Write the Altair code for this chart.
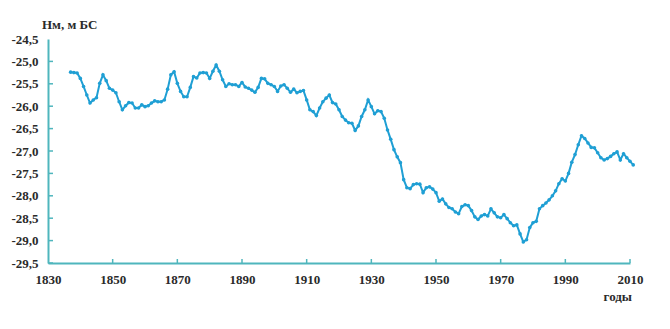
import altair as alt
import pandas as pd

years = list(range(1837, 2012))
levels = [
    -25.24, -25.25, -25.26, -25.38, -25.56, -25.75, -25.93, -25.86, -25.81, -25.49,  # 1837-1846
    -25.30, -25.43, -25.60, -25.64, -25.70, -25.90, -26.08, -25.99, -25.92, -25.93,  # 1847-1856
    -26.04, -26.04, -25.97, -26.01, -25.99, -25.93, -25.88, -25.90, -25.90, -25.86,  # 1857-1866
    -25.62, -25.30, -25.23, -25.49, -25.67, -25.79, -25.79, -25.58, -25.34, -25.37,  # 1867-1876
    -25.26, -25.25, -25.26, -25.38, -25.22, -25.08, -25.22, -25.41, -25.56, -25.50,  # 1877-1886
    -25.52, -25.52, -25.56, -25.47, -25.57, -25.60, -25.64, -25.69, -25.58, -25.38,  # 1887-1896
    -25.39, -25.49, -25.52, -25.56, -25.67, -25.55, -25.52, -25.60, -25.69, -25.62,  # 1897-1906
    -25.70, -25.67, -25.65, -25.86, -26.08, -26.12, -26.21, -26.04, -25.90, -25.82,  # 1907-1916
    -25.75, -25.92, -25.95, -26.08, -26.23, -26.31, -26.37, -26.38, -26.54, -26.44,  # 1917-1926
    -26.23, -26.08, -25.86, -26.01, -26.17, -26.10, -26.12, -26.27, -26.53, -26.74,  # 1927-1936
    -26.97, -27.13, -27.26, -27.64, -27.82, -27.84, -27.75, -27.73, -27.74, -27.93,  # 1937-1946
    -27.82, -27.80, -27.85, -27.93, -28.12, -28.07, -28.18, -28.26, -28.29, -28.36,  # 1947-1956
    -28.40, -28.24, -28.20, -28.22, -28.33, -28.47, -28.53, -28.45, -28.42, -28.45,  # 1957-1966
    -28.29, -28.38, -28.47, -28.49, -28.42, -28.51, -28.60, -28.67, -28.65, -28.85,  # 1967-1976
    -29.03, -28.98, -28.71, -28.60, -28.57, -28.29, -28.22, -28.16, -28.09, -28.00,  # 1977-1986
    -27.89, -27.73, -27.62, -27.67, -27.50, -27.25, -27.08, -26.86, -26.66, -26.72,  # 1987-1996
    -26.82, -26.92, -26.93, -27.04, -27.15, -27.20, -27.17, -27.12, -27.06, -27.02,  # 1997-2006
    -27.20, -27.06, -27.15, -27.23, -27.31,                                          # 2007-2011
]
x_ticks = [1830, 1850, 1870, 1890, 1910, 1930, 1950, 1970, 1990, 2010]
y_ticks = [-29.5, -29.0, -28.5, -28.0, -27.5, -27.0, -26.5, -26.0, -25.5, -25.0, -24.5]
y_title = "Нм, м БС"
x_title = "годы"

W, H = 582, 224
LINE = "#1f9fd4"
AXIS = "#4fb6bd"
TEXT = "#2a2a2a"
FONT = "Liberation Serif"

df = pd.DataFrame({"year": years, "level": levels})

xscale = alt.Scale(domain=[1830, 2010], nice=False, zero=False)
yscale = alt.Scale(domain=[-29.5, -24.5], nice=False, zero=False)

xaxis = alt.Axis(values=x_ticks, ticks=False, grid=False, domainColor=AXIS, domainWidth=2,
                 labelFont=FONT, labelFontSize=13, labelFontWeight="bold", labelColor=TEXT,
                 labelPadding=10, labelOverlap=False, labelFlush=False,
                 labelExpr="format(datum.value, 'd')", title=None)
yaxis = alt.Axis(values=y_ticks, ticks=False, grid=False, domainColor=AXIS, domainWidth=2,
                 labelFont=FONT, labelFontSize=13, labelFontWeight="bold", labelColor=TEXT,
                 labelPadding=10, labelOverlap=False, labelFlush=False, labelBound=False,
                 labelExpr="(datum.value < 0 ? '-' : '') + replace(format(abs(datum.value), '.1f'), '.', ',')",
                 title=None)

line = alt.Chart(df).mark_line(
    color=LINE, strokeWidth=2,
    point=alt.OverlayMarkDef(filled=True, size=13, color=LINE),
).encode(
    x=alt.X("year:Q", scale=xscale, axis=xaxis),
    y=alt.Y("level:Q", scale=yscale, axis=yaxis),
)

yt = alt.Chart(pd.DataFrame({"v": y_ticks[:-1]})).mark_rule(color=AXIS, strokeWidth=1.5).encode(
    y=alt.Y("v:Q", scale=yscale, axis=yaxis), x=alt.value(0), x2=alt.value(5)
)
xt = alt.Chart(pd.DataFrame({"v": x_ticks[1:]})).mark_rule(color=AXIS, strokeWidth=1.5).encode(
    x=alt.X("v:Q", scale=xscale, axis=xaxis), y=alt.value(H), y2=alt.value(H - 4)
)

ttl = alt.Chart(pd.DataFrame({"t": [y_title]})).mark_text(
    font=FONT, fontSize=13, fontWeight="bold", color=TEXT, align="left", baseline="middle"
).encode(text="t:N", x=alt.value(-6), y=alt.value(-14))

xtl = alt.Chart(pd.DataFrame({"t": [x_title]})).mark_text(
    font=FONT, fontSize=13, fontWeight="bold", color=TEXT, align="right", baseline="middle"
).encode(text="t:N", x=alt.value(W + 2), y=alt.value(H + 34))

chart = alt.layer(line, yt, xt, ttl, xtl).properties(
    width=W, height=H,
    background="white",
    autosize=alt.AutoSizeParams(type="none"),
    padding={"left": 48, "top": 39, "right": 40, "bottom": 66},
).configure_view(stroke=None).configure_axis(labelOverlap=False)

chart.save("out.html", embed_options={"renderer": "svg", "actions": False})
